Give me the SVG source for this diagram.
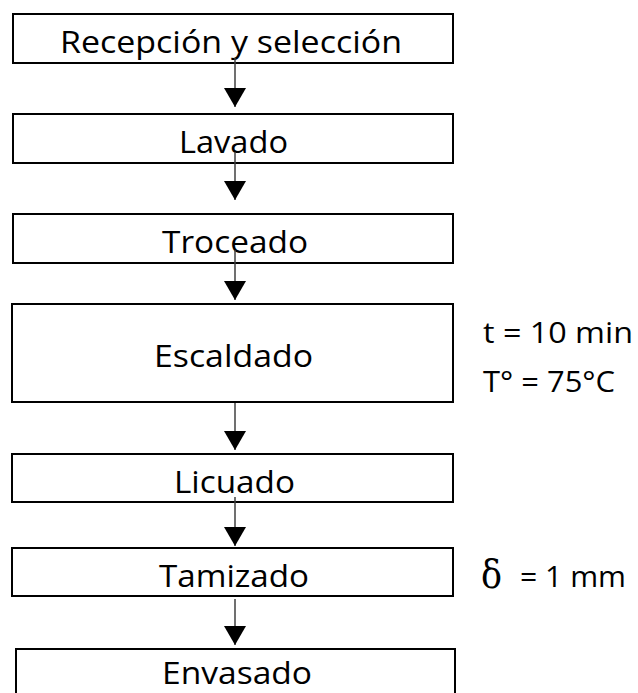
<svg xmlns="http://www.w3.org/2000/svg" width="638" height="693" viewBox="0 0 638 693">
  <style>
    .box { fill: #ffffff; stroke: #000000; stroke-width: 2; }
    .lbl { font-family: "Open Sans", "Liberation Sans", sans-serif; font-size: 31px; fill: #000000; }
    .note { font-family: "Open Sans", "Liberation Sans", sans-serif; font-size: 30px; fill: #000000; }
    .sym { font-family: "DejaVu Serif", "Liberation Serif", serif; font-size: 40px; fill: #000000; }
    .conn { stroke: #404040; stroke-width: 1.5; fill: none; marker-end: url(#arrow); }
  </style>
  <defs>
    <marker id="arrow" markerUnits="userSpaceOnUse" markerWidth="20" markerHeight="22" refX="19" refY="11" orient="auto" viewBox="0 0 20 22">
      <path d="M0,0 L19,11 L0,22 z" fill="#000000"/>
    </marker>
  </defs>
  <rect width="638" height="693" fill="#ffffff"/>

  <g id="node-recepcion">
    <rect class="box" x="13" y="14" width="440" height="49"/>
    <text class="lbl" x="60" y="53" textLength="342" lengthAdjust="spacingAndGlyphs">Recepción y selección</text>
  </g>
  <g id="node-lavado">
    <rect class="box" x="13" y="114" width="440" height="49"/>
    <text class="lbl" x="179" y="153" textLength="109" lengthAdjust="spacingAndGlyphs">Lavado</text>
  </g>
  <g id="node-troceado">
    <rect class="box" x="13" y="214" width="440" height="49"/>
    <text class="lbl" x="162" y="253" textLength="146" lengthAdjust="spacingAndGlyphs">Troceado</text>
  </g>
  <g id="node-escaldado">
    <rect class="box" x="12" y="304" width="441" height="98"/>
    <text class="lbl" x="154" y="367" textLength="159" lengthAdjust="spacingAndGlyphs">Escaldado</text>
  </g>
  <g id="node-licuado">
    <rect class="box" x="12" y="454" width="441" height="48"/>
    <text class="lbl" x="174" y="493" textLength="121" lengthAdjust="spacingAndGlyphs">Licuado</text>
  </g>
  <g id="node-tamizado">
    <rect class="box" x="12" y="548" width="441" height="48"/>
    <text class="lbl" x="159" y="587" textLength="150" lengthAdjust="spacingAndGlyphs">Tamizado</text>
  </g>
  <g id="node-envasado">
    <rect class="box" x="16" y="649" width="439" height="60"/>
    <text class="lbl" x="162" y="684" textLength="150" lengthAdjust="spacingAndGlyphs">Envasado</text>
  </g>

  <g id="notes">
    <text class="note" x="483" y="343" textLength="150" lengthAdjust="spacingAndGlyphs">t = 10 min</text>
    <text class="note" x="483" y="392" textLength="132" lengthAdjust="spacingAndGlyphs">T° = 75°C</text>
    <text class="sym" x="481" y="588" textLength="21" lengthAdjust="spacingAndGlyphs">δ</text>
    <text class="note" x="520" y="587" textLength="106" lengthAdjust="spacingAndGlyphs">= 1 mm</text>
  </g>

  <g id="connectors">
    <line class="conn" x1="235" y1="58" x2="235" y2="107"/>
    <line class="conn" x1="235" y1="152" x2="235" y2="200"/>
    <line class="conn" x1="235" y1="250" x2="235" y2="300"/>
    <line class="conn" x1="235" y1="403" x2="235" y2="450"/>
    <line class="conn" x1="235" y1="497" x2="235" y2="546"/>
    <line class="conn" x1="235" y1="599" x2="235" y2="645"/>
  </g>
</svg>
